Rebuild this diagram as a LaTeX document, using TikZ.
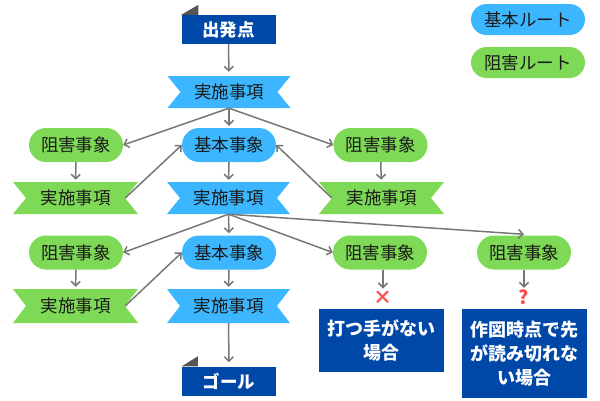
\documentclass[tikz,border=0pt]{standalone}
\usepackage{fontspec}
\setmainfont{Noto Sans CJK JP}
\usetikzlibrary{arrows.meta}
\definecolor{lblue}{HTML}{3CB7FF}
\definecolor{lgreen}{HTML}{7ED957}
\definecolor{dblue}{HTML}{0048A8}
\definecolor{conn}{HTML}{777777}
\definecolor{earc}{HTML}{555555}
\definecolor{markc}{HTML}{FF5050}
\tikzset{
  base/.style={inner sep=0pt, font=\fontsize{17.5}{20}\selectfont, text=black!90},
  pill/.style={base, rounded corners=17pt, minimum width=94pt, minimum height=34pt},
  basic/.style={pill, fill=lblue},
  hinder/.style={pill, fill=lgreen},
  legend/.style={base, rounded corners=15.5pt, minimum width=114pt, minimum height=31pt},
  ribbonbox/.style={base, minimum width=123pt, minimum height=32pt, path picture={
    \fill[#1] (path picture bounding box.north west) -- (path picture bounding box.north east)
      -- ([xshift=-13pt]path picture bounding box.east) -- (path picture bounding box.south east)
      -- (path picture bounding box.south west) -- ([xshift=13pt]path picture bounding box.west) -- cycle;}},
  terminal/.style={inner sep=0pt, fill=dblue, text=white, font=\fontsize{17.5}{20}\selectfont\bfseries,
    minimum width=94pt, minimum height=29pt},
  endbox/.style={inner sep=0pt, fill=dblue, text=white, font=\fontsize{18}{24}\selectfont\bfseries,
    minimum width=125pt, align=center},
  markt/.style={inner sep=0pt, text=markc, font=\fontsize{19}{20}\selectfont\bfseries},
  conn/.style={draw=conn, line width=1.5pt, -{Straight Barb[length=4.5pt,width=9pt]}},
}
\begin{document}
\begin{tikzpicture}[x=1pt, y=-1pt]
\useasboundingbox (0,0) rectangle (600,400);
% legend
\node[legend, fill=lblue] (lg1) at (528,19.5) {基本ルート};
\node[legend, fill=lgreen] (lg2) at (528,62.5) {阻害ルート};
% start
\node[terminal] (start) at (228.5,29.5) {出発点};
\fill[earc] (start.north west) -- ([xshift=17pt]start.north west) -- ([xshift=17pt,yshift=10pt]start.north west) -- cycle;
\node[ribbonbox=lblue] (r1) at (229,92) {実施事項};
% row 2
\node[hinder] (h1) at (76,145) {阻害事象};
\node[basic] (b1) at (229,145) {基本事象};
\node[hinder] (h2) at (380.5,145) {阻害事象};
% row 3
\node[ribbonbox=lgreen, minimum width=125pt] (g1) at (75.5,198) {実施事項};
\node[ribbonbox=lblue] (r2) at (228.5,198) {実施事項};
\node[ribbonbox=lgreen, minimum width=125pt] (g2) at (381.5,198) {実施事項};
% row 4
\node[hinder] (h3) at (76,252.5) {阻害事象};
\node[basic] (b2) at (229,252.5) {基本事象};
\node[hinder] (h4) at (380,252.5) {阻害事象};
\node[hinder] (h5) at (524,252.5) {阻害事象};
% row 5
\node[ribbonbox=lgreen, minimum width=125pt, minimum height=34pt] (g3) at (75.5,306) {実施事項};
\node[ribbonbox=lblue, minimum height=34pt] (r3) at (228.5,306) {実施事項};
% marks and end boxes
\node[markt] (x1) at (383,297.5) {×};
\node[markt] (q1) at (524,297.5) {?};
\node[endbox, minimum height=63pt] (e1) at (381.5,340.5) {打つ手がない\\場合};
\node[endbox, minimum height=89pt] (e2) at (524.5,353.5) {作図時点で先\\が読み切れな\\い場合};
% goal
\node[terminal] (goal) at (229,381) {ゴール};
\fill[earc] (goal.north west) -- ([xshift=16pt]goal.north west) -- ([xshift=16pt,yshift=10pt]goal.north west) -- cycle;
% connectors
\draw[conn, shorten >=4pt] (start) -- (r1);
\draw[conn, shorten >=2pt] (r1.south) -- (b1.north);
\draw[conn] (r1.south) -- (h1.east);
\draw[conn] (r1.south) -- (h2.west);
\draw[conn, shorten >=2pt] (h1) -- (g1);
\draw[conn, shorten >=2pt] (h2) -- (g2);
\draw[conn, shorten >=2pt] (b1) -- (r2);
\draw[conn] ([xshift=-13pt]g1.east) -- (b1.west);
\draw[conn] ([xshift=13pt]g2.west) -- (b1.east);
\draw[conn] (r2.south) -- (h3.east);
\draw[conn, shorten >=2pt] (r2.south) -- (b2.north);
\draw[conn] (r2.south) -- (h4.west);
\draw[conn] (r2.south) -- ([yshift=1pt]h5.north);
\draw[conn, shorten >=2pt] (h3) -- (g3);
\draw[conn] ([xshift=-13pt]g3.east) -- (b2.west);
\draw[conn, shorten >=2pt] (b2) -- (r3);
\draw[conn, shorten >=4pt] (r3) -- (goal);
\draw[conn, shorten >=2pt] ([xshift=3pt]h4.south) -- (x1.north);
\draw[conn, shorten >=2pt] (h5.south) -- (q1.north);
\end{tikzpicture}
\end{document}
